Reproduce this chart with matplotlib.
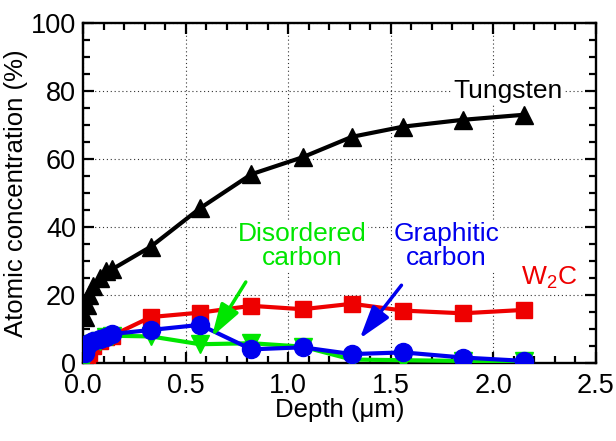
import matplotlib
matplotlib.use("Agg")
import matplotlib.pyplot as plt
from matplotlib.ticker import MultipleLocator

plt.rcParams['font.family'] = ['Liberation Sans', 'DejaVu Sans']
plt.rcParams['mathtext.fontset'] = 'custom'
plt.rcParams['mathtext.rm'] = 'Liberation Sans'

# Depth (um) and atomic concentration (%)
depth = [0.01, 0.02, 0.03, 0.05, 0.08, 0.11, 0.14, 0.33, 0.57, 0.82, 1.07, 1.31, 1.56, 1.85, 2.15]
tungsten = [13.5, 17, 20, 22.5, 25, 27, 27.5, 34.2, 45.5, 55.5, 60.5, 66.5, 69.5, 71.5, 73]
w2c = [0.5, 1.5, 3, 5, 6.5, 7.5, 8, 13.5, 14.8, 16.8, 15.8, 17.4, 15.4, 14.6, 15.6]
disordered = [0.5, 2, 4, 5.5, 6.5, 7.5, 8, 7.8, 5.5, 5.8, 4.8, 1, 0.8, 0.6, 0.5]
graphitic = [3, 5, 6, 6.5, 7, 7.5, 8.5, 9.7, 11.2, 4.0, 4.6, 2.6, 3.1, 1.6, 0.6]

green = '#00e600'
blue = '#0000ee'
red = '#ee0000'

fig = plt.figure(figsize=(6.16, 4.41), dpi=100)
ax = fig.add_axes([0.135, 0.177, 0.8325, 0.771])

ax.plot(depth, tungsten, color='black', lw=3, marker='^', ms=13, zorder=3)
ax.plot(depth, w2c, color=red, lw=3, marker='s', ms=12, zorder=3)
ax.plot(depth, disordered, color=green, lw=3, marker='v', ms=13, zorder=4)
ax.plot(depth, graphitic, color=blue, lw=3, marker='o', ms=13, zorder=5)

ax.set_xlim(0, 2.5)
ax.set_ylim(0, 100)
ax.xaxis.set_major_locator(MultipleLocator(0.5))
ax.xaxis.set_minor_locator(MultipleLocator(0.1))
ax.yaxis.set_major_locator(MultipleLocator(20))
ax.yaxis.set_minor_locator(MultipleLocator(5))
ax.xaxis.set_major_formatter(plt.FormatStrFormatter('%.1f'))
ax.tick_params(which='both', direction='in', top=True, right=True, width=1.6,
               labelsize=19.5)
ax.tick_params(axis='x', pad=7.5)
ax.tick_params(axis='y', pad=5)
ax.tick_params(which='major', length=8)
ax.tick_params(which='minor', length=5)
for s in ax.spines.values():
    s.set_linewidth(1.7)
ax.grid(True, which='major', ls=(0, (1, 2.5)), color='#333333', lw=0.8)
ax.set_axisbelow(True)

ax.set_xlabel('Depth (\u03bcm)', fontsize=18.5, labelpad=-1)
ax.set_ylabel('Atomic concentration (%)', fontsize=18.5, labelpad=2)

box = dict(facecolor='white', edgecolor='none', pad=1)
ax.text(2.07, 80, 'Tungsten', fontsize=19, ha='center', va='center', bbox=box, zorder=6)
ax.text(1.07, 34.5, 'Disordered\ncarbon', fontsize=19, color=green, ha='center',
        va='center', linespacing=1.0, bbox=box, zorder=6)
ax.text(1.77, 34.5, 'Graphitic\ncarbon', fontsize=19, color=blue, ha='center',
        va='center', linespacing=1.0, bbox=box, zorder=6)
ax.text(2.27, 25, 'W$_2$C', fontsize=19, color=red, ha='center', va='center', zorder=6)

head = '-|>,head_length=0.8,head_width=0.25'
ax.annotate('', xy=(0.62, 7.0), xytext=(0.80, 24.5),
            arrowprops=dict(arrowstyle=head, color=green, lw=2.5, mutation_scale=25),
            zorder=6)
ax.annotate('', xy=(1.34, 6.5), xytext=(1.56, 23.5),
            arrowprops=dict(arrowstyle=head, color=blue, lw=2.5, mutation_scale=25),
            zorder=6)

fig.savefig('out.png', dpi=100)
